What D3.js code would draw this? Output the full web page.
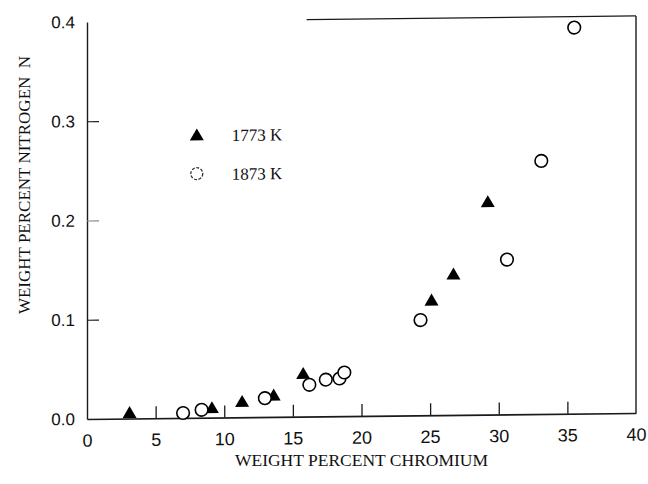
<!DOCTYPE html>
<html><head><meta charset="utf-8">
<script src="https://cdn.jsdelivr.net/npm/d3@7"></script>
<style>html,body{margin:0;padding:0;background:#fff}</style>
</head><body><div id="chart"></div>
<script>
const seriesNames = ["1773 K", "1873 K"];
const chromium1773 = [3.1, 9.1, 11.3, 13.6, 15.75, 25.1, 26.7, 29.2];
const nitrogen1773 = [0.006, 0.010, 0.016, 0.022, 0.0435, 0.116, 0.142, 0.2145];
const chromium1873 = [7.0, 8.35, 12.96, 16.2, 17.4, 18.4, 18.75, 24.3, 30.6, 33.1, 35.5];
const nitrogen1873 = [0.005, 0.008, 0.019, 0.032, 0.037, 0.038, 0.044, 0.096, 0.156, 0.255, 0.389];
const xTickValues = [0, 5, 10, 15, 20, 25, 30, 35, 40];
const yTickValues = [0.0, 0.1, 0.2, 0.3, 0.4];
const xTitle = "WEIGHT PERCENT CHROMIUM";
const yTitle = "WEIGHT PERCENT NITROGEN  N";

const W = 648, H = 484;
const mLeft = 87, mRight = 636, mTop = 22, mBottom = 419;

const svg = d3.select("#chart").append("svg")
  .attr("width", W).attr("height", H)
  .style("display", "block");

const x = d3.scaleLinear().domain([0, 40]).range([mLeft, mRight]);
const y = d3.scaleLinear().domain([0, 0.4]).range([mBottom, mTop]);

// slight tilt of the scanned figure
const g = svg.append("g")
  .attr("transform", `translate(${mLeft},${mBottom}) skewY(-0.63) translate(${-mLeft},${-mBottom})`);

const axisColor = "#1a1a1a";

// X axis
const xAxis = g.append("g")
  .attr("transform", `translate(0,${mBottom})`)
  .call(d3.axisBottom(x).tickValues(xTickValues).tickSize(-12).tickSizeOuter(0).tickPadding(15)
    .tickFormat(d3.format("d")));
xAxis.select(".domain").attr("stroke", axisColor).attr("stroke-width", 1.6);
xAxis.selectAll(".tick line").attr("stroke", axisColor).attr("stroke-width", 1.3)
  .filter(d => d === 0 || d === 40).remove();
xAxis.selectAll(".tick text")
  .attr("font-family", "'Liberation Sans', Arial, sans-serif")
  .attr("font-size", 18).attr("fill", "#111");

// Y axis
const yAxis = g.append("g")
  .attr("transform", `translate(${mLeft},0)`)
  .call(d3.axisLeft(y).tickValues(yTickValues).tickSize(-12).tickSizeOuter(0).tickPadding(12)
    .tickFormat(d3.format(".1f")));
yAxis.select(".domain").attr("stroke", axisColor).attr("stroke-width", 1.4);
yAxis.selectAll(".tick line").attr("stroke", axisColor).attr("stroke-width", 1.2)
  .filter(d => d === 0 || d === 0.4).remove();
yAxis.selectAll(".tick line").filter(d => d === 0.2).attr("stroke", "#888");
yAxis.selectAll(".tick text")
  .attr("font-family", "'Liberation Sans', Arial, sans-serif")
  .attr("font-size", 17).attr("fill", "#111");

// Frame: right edge and partial top edge
g.append("line")
  .attr("x1", x(40)).attr("x2", x(40)).attr("y1", y(0)).attr("y2", y(0.4))
  .attr("stroke", axisColor).attr("stroke-width", 1.4);
g.append("line")
  .attr("x1", x(16)).attr("x2", x(40)).attr("y1", y(0.4)).attr("y2", y(0.4))
  .attr("stroke", axisColor).attr("stroke-width", 1.3);

// Markers
const triPath = (cx, cy) => `M${cx},${cy - 6.5}L${cx + 7},${cy + 5.5}L${cx - 7},${cy + 5.5}Z`;

const tri = chromium1773.map((c, i) => ({ c, n: nitrogen1773[i] }));
const circ = chromium1873.map((c, i) => ({ c, n: nitrogen1873[i] }));

g.selectAll("path.tri").data(tri).enter().append("path")
  .attr("class", "tri")
  .attr("d", d => triPath(x(d.c), y(d.n)))
  .attr("fill", "#000");

g.selectAll("circle.pt").data(circ).enter().append("circle")
  .attr("class", "pt")
  .attr("cx", d => x(d.c)).attr("cy", d => y(d.n)).attr("r", 6.3)
  .attr("fill", "#fff").attr("stroke", "#000").attr("stroke-width", 1.6);

// Legend
const legend = g.append("g");
const legRows = [
  { name: seriesNames[0], sx: x(8.0), sy: y(0.285), type: "tri" },
  { name: seriesNames[1], sx: x(8.0), sy: y(0.246), type: "circ" }
];
legRows.forEach(r => {
  if (r.type === "tri") {
    legend.append("path").attr("d", triPath(r.sx, r.sy)).attr("fill", "#000");
  } else {
    legend.append("circle").attr("cx", r.sx).attr("cy", r.sy).attr("r", 6)
      .attr("fill", "#fff").attr("stroke", "#333").attr("stroke-width", 1.3)
      .attr("stroke-dasharray", "3,1.5");
  }
  legend.append("text").attr("x", r.sx + 35).attr("y", r.sy + 6.5)
    .attr("font-family", "'Liberation Serif', 'Times New Roman', serif")
    .attr("font-size", 17).attr("fill", "#111").text(r.name);
});

// Axis titles
svg.append("text")
  .attr("x", (mLeft + mRight) / 2).attr("y", 466)
  .attr("text-anchor", "middle")
  .attr("font-family", "'Liberation Serif', 'Times New Roman', serif")
  .attr("font-size", 17.5).attr("fill", "#111")
  .text(xTitle);

svg.append("text")
  .attr("transform", `translate(30,${185}) rotate(-90)`)
  .attr("text-anchor", "middle")
  .attr("font-family", "'Liberation Serif', 'Times New Roman', serif")
  .attr("font-size", 17).attr("fill", "#111")
  .style("white-space", "pre")
  .text(yTitle);
</script>
</body></html>
